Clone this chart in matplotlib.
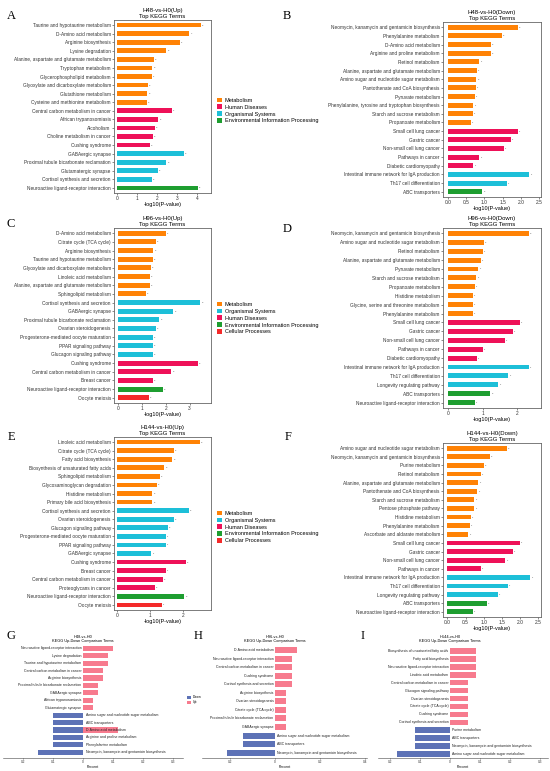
"""
KEGG enrichment figure: six Top KEGG Terms bar panels (A-F)
and three up/down comparison panels (G-I).
"""
import numpy as np
import matplotlib
matplotlib.use('Agg')
import matplotlib.pyplot as plt
import matplotlib.transforms as mtransforms
from matplotlib.patches import Patch

W, H = 550, 771
plt.rcParams['font.family'] = ['Liberation Sans', 'DejaVu Sans']

COLORS = {'M': '#FF8205', 'H': '#EE1158', 'O': '#1DBFD8', 'E': '#1E9E30', 'C': '#F42A2A'}
NAMES = {'M': 'Metabolism', 'H': 'Human Diseases', 'O': 'Organismal Systems',
         'E': 'Environmental Information Processing', 'C': 'Cellular Processes'}
UP_COLOR = '#F77B8E'
DOWN_COLOR = '#5D72B6'

# ---------------- A: H48-vs-H0 (Up) ----------------
terms_a = ["Taurine and hypotaurine metabolism", "D-Amino acid metabolism", "Arginine biosynthesis",
           "Lysine degradation", "Alanine, aspartate and glutamate metabolism", "Tryptophan metabolism",
           "Glycerophospholipid metabolism", "Glyoxylate and dicarboxylate metabolism",
           "Glutathione metabolism", "Cysteine and methionine metabolism",
           "Central carbon metabolism in cancer", "African trypanosomiasis", "Alcoholism",
           "Choline metabolism in cancer", "Cushing syndrome", "GABAergic synapse",
           "Proximal tubule bicarbonate reclamation", "Glutamatergic synapse",
           "Cortisol synthesis and secretion", "Neuroactive ligand-receptor interaction"]
vals_a = [4.20, 3.61, 3.14, 2.46, 1.84, 1.76, 1.72, 1.54, 1.50, 1.47,
          2.72, 2.06, 1.87, 1.77, 1.64, 3.33, 2.46, 2.04, 1.72, 4.03]
counts_a = [5, 7, 4, 5, 3, 3, 4, 3, 3, 3, 4, 2, 3, 3, 3, 3, 3, 2, 2, 6]
cats_a = ['M'] * 10 + ['H'] * 5 + ['O'] * 4 + ['E']

# ---------------- B: H48-vs-H0 (Down) ----------------
terms_b = ["Neomycin, kanamycin and gentamicin biosynthesis", "Phenylalanine metabolism",
           "D-Amino acid metabolism", "Arginine and proline metabolism", "Retinol metabolism",
           "Alanine, aspartate and glutamate metabolism", "Amino sugar and nucleotide sugar metabolism",
           "Pantothenate and CoA biosynthesis", "Pyruvate metabolism",
           "Phenylalanine, tyrosine and tryptophan biosynthesis", "Starch and sucrose metabolism",
           "Propanoate metabolism", "Small cell lung cancer", "Gastric cancer",
           "Non-small cell lung cancer", "Pathways in cancer", "Diabetic cardiomyopathy",
           "Intestinal immune network for IgA production", "Th17 cell differentiation",
           "ABC transporters"]
vals_b = [1.91, 1.47, 1.18, 1.18, 0.86, 0.80, 0.78, 0.76, 0.75, 0.70,
          0.69, 0.64, 1.91, 1.73, 1.53, 0.86, 0.70, 2.23, 1.61, 0.95]
counts_b = [3, 2, 2, 2, 1, 1, 2, 1, 1, 1, 1, 1, 1, 1, 1, 1, 1, 1, 1, 2]
cats_b = ['M'] * 12 + ['H'] * 5 + ['O'] * 2 + ['E']

# ---------------- C: H96-vs-H0 (Up) ----------------
terms_c = ["D-Amino acid metabolism", "Citrate cycle (TCA cycle)", "Arginine biosynthesis",
           "Taurine and hypotaurine metabolism", "Glyoxylate and dicarboxylate metabolism",
           "Linoleic acid metabolism", "Alanine, aspartate and glutamate metabolism",
           "Sphingolipid metabolism", "Cortisol synthesis and secretion", "GABAergic synapse",
           "Proximal tubule bicarbonate reclamation", "Ovarian steroidogenesis",
           "Progesterone-mediated oocyte maturation", "PPAR signaling pathway",
           "Glucagon signaling pathway", "Cushing syndrome", "Central carbon metabolism in cancer",
           "Breast cancer", "Neuroactive ligand-receptor interaction", "Oocyte meiosis"]
vals_c = [2.00, 1.59, 1.48, 1.45, 1.37, 1.34, 1.34, 1.15, 3.45, 2.32,
          1.73, 1.58, 1.44, 1.44, 1.44, 3.35, 2.23, 1.44, 1.86, 1.30]
counts_c = [4, 2, 2, 2, 2, 2, 2, 2, 3, 2, 2, 2, 2, 2, 2, 3, 3, 2, 3, 2]
cats_c = ['M'] * 8 + ['O'] * 7 + ['H'] * 3 + ['E', 'C']

# ---------------- D: H96-vs-H0 (Down) ----------------
terms_d = ["Neomycin, kanamycin and gentamicin biosynthesis", "Amino sugar and nucleotide sugar metabolism",
           "Retinol metabolism", "Alanine, aspartate and glutamate metabolism", "Pyruvate metabolism",
           "Starch and sucrose metabolism", "Propanoate metabolism", "Histidine metabolism",
           "Glycine, serine and threonine metabolism", "Phenylalanine metabolism",
           "Small cell lung cancer", "Gastric cancer", "Non-small cell lung cancer",
           "Pathways in cancer", "Diabetic cardiomyopathy",
           "Intestinal immune network for IgA production", "Th17 cell differentiation",
           "Longevity regulating pathway", "ABC transporters",
           "Neuroactive ligand-receptor interaction"]
vals_d = [2.34, 1.03, 1.00, 0.94, 0.88, 0.82, 0.78, 0.72, 0.72, 0.71,
          2.08, 1.87, 1.64, 1.00, 0.84, 2.34, 1.74, 1.45, 1.22, 0.77]
counts_d = [3, 2, 1, 1, 1, 1, 1, 1, 1, 1, 1, 1, 1, 1, 1, 1, 1, 1, 2, 1]
cats_d = ['M'] * 10 + ['H'] * 5 + ['O'] * 3 + ['E'] * 2

# ---------------- E: H144-vs-H0 (Up) ----------------
terms_e = ["Linoleic acid metabolism", "Citrate cycle (TCA cycle)", "Fatty acid biosynthesis",
           "Biosynthesis of unsaturated fatty acids", "Sphingolipid metabolism",
           "Glycosaminoglycan degradation", "Histidine metabolism", "Primary bile acid biosynthesis",
           "Cortisol synthesis and secretion", "Ovarian steroidogenesis", "Glucagon signaling pathway",
           "Progesterone-mediated oocyte maturation", "PPAR signaling pathway", "GABAergic synapse",
           "Cushing syndrome", "Breast cancer", "Central carbon metabolism in cancer",
           "Proteoglycans in cancer", "Neuroactive ligand-receptor interaction", "Oocyte meiosis"]
vals_e = [2.52, 1.73, 1.68, 1.44, 1.29, 1.20, 1.07, 1.07, 2.18, 1.73,
          1.55, 1.49, 1.49, 1.04, 2.10, 1.49, 1.40, 1.14, 2.05, 1.37]
counts_e = [3, 2, 3, 3, 2, 2, 2, 2, 2, 2, 2, 1, 1, 1, 2, 1, 2, 2, 3, 1]
cats_e = ['M'] * 8 + ['O'] * 6 + ['H'] * 4 + ['E', 'C']

# ---------------- F: H144-vs-H0 (Down) ----------------
terms_f = ["Amino sugar and nucleotide sugar metabolism", "Neomycin, kanamycin and gentamicin biosynthesis",
           "Purine metabolism", "Retinol metabolism", "Alanine, aspartate and glutamate metabolism",
           "Pantothenate and CoA biosynthesis", "Starch and sucrose metabolism",
           "Pentose phosphate pathway", "Histidine metabolism", "Phenylalanine metabolism",
           "Ascorbate and aldarate metabolism", "Small cell lung cancer", "Gastric cancer",
           "Non-small cell lung cancer", "Pathways in cancer",
           "Intestinal immune network for IgA production", "Th17 cell differentiation",
           "Longevity regulating pathway", "ABC transporters",
           "Neuroactive ligand-receptor interaction"]
vals_f = [1.64, 1.18, 1.01, 0.92, 0.85, 0.83, 0.74, 0.74, 0.65, 0.62,
          0.58, 1.99, 1.80, 1.60, 0.92, 2.29, 1.67, 1.39, 1.09, 0.71]
counts_f = [3, 2, 2, 1, 1, 1, 1, 1, 1, 1, 1, 1, 1, 1, 1, 1, 1, 1, 2, 1]
cats_f = ['M'] * 11 + ['H'] * 4 + ['O'] * 3 + ['E'] * 2

# ---------------- G-I: up/down comparison (percent) ----------------
terms_g = ["Neuroactive ligand-receptor interaction", "Lysine degradation",
           "Taurine and hypotaurine metabolism", "Central carbon metabolism in cancer",
           "Arginine biosynthesis", "Proximal tubule bicarbonate reclamation", "GABAergic synapse",
           "African trypanosomiasis", "Glutamatergic synapse",
           "Amino sugar and nucleotide sugar metabolism", "ABC transporters",
           "D-Amino acid metabolism", "Arginine and proline metabolism", "Phenylalanine metabolism",
           "Neomycin, kanamycin and gentamicin biosynthesis"]
up_g = [0.100, 0.083, 0.083, 0.067, 0.067, 0.050, 0.050, 0.033, 0.033, 0, 0, 0.117, 0, 0, 0]
down_g = [0, 0, 0, 0, 0, 0, 0, 0, 0, 0.100, 0.100, 0.100, 0.100, 0.100, 0.150]

terms_h = ["D-Amino acid metabolism", "Neuroactive ligand-receptor interaction",
           "Central carbon metabolism in cancer", "Cushing syndrome", "Cortisol synthesis and secretion",
           "Arginine biosynthesis", "Ovarian steroidogenesis", "Citrate cycle (TCA cycle)",
           "Proximal tubule bicarbonate reclamation", "GABAergic synapse",
           "Amino sugar and nucleotide sugar metabolism", "ABC transporters",
           "Neomycin, kanamycin and gentamicin biosynthesis"]
up_h = [0.100, 0.075, 0.075, 0.075, 0.075, 0.050, 0.050, 0.050, 0.050, 0.050, 0, 0, 0]
down_h = [0, 0, 0, 0, 0, 0, 0, 0, 0, 0, 0.143, 0.143, 0.214]

terms_i = ["Biosynthesis of unsaturated fatty acids", "Fatty acid biosynthesis",
           "Neuroactive ligand-receptor interaction", "Linoleic acid metabolism",
           "Central carbon metabolism in cancer", "Glucagon signaling pathway",
           "Ovarian steroidogenesis", "Citrate cycle (TCA cycle)", "Cushing syndrome",
           "Cortisol synthesis and secretion", "Purine metabolism", "ABC transporters",
           "Neomycin, kanamycin and gentamicin biosynthesis",
           "Amino sugar and nucleotide sugar metabolism"]
up_i = [0.088, 0.088, 0.088, 0.088, 0.059, 0.059, 0.059, 0.059, 0.059, 0.059, 0, 0, 0, 0]
down_i = [0, 0, 0, 0, 0, 0, 0, 0, 0, 0, 0.118, 0.118, 0.118, 0.176]


def px_rect(l, r, t, b):
    return [l / W, 1 - b / H, (r - l) / W, (b - t) / H]


def kegg_panel(fig, rect, terms, vals, counts, cats, title, xlim, xticks, xticklabels):
    ax = fig.add_axes(px_rect(*rect))
    n = len(terms)
    y = np.arange(n)
    ax.barh(y, vals, height=0.55, color=[COLORS[c] for c in cats], linewidth=0)
    span = xlim[1] - xlim[0]
    for yi, v, c in zip(y, vals, counts):
        ax.text(v + 0.012 * span, yi, str(c), fontsize=1.7, ha='left', va='center', color='#333333')
    ax.set_xlim(*xlim)
    ax.set_ylim(n - 0.4, -0.6)
    ax.set_yticks(y)
    ax.set_yticklabels(terms, fontsize=3.4)
    ax.set_xticks(xticks)
    ax.set_xticklabels(xticklabels, fontsize=3.5)
    ax.tick_params(length=1.5, width=0.4, pad=0.8, colors='#333333')
    ax.set_xlabel('-log10(P-value)', fontsize=4.0, labelpad=0.8)
    ax.set_title(title, fontsize=4.3, pad=1.6, linespacing=1.1)
    for s in ax.spines.values():
        s.set_linewidth(0.6)
        s.set_color('#666666')
    return ax


def cat_legend(fig, cats, x, yc):
    handles = [Patch(facecolor=COLORS[c], label=NAMES[c]) for c in cats]
    fig.legend(handles=handles, loc='center left', bbox_to_anchor=(x / W, 1 - yc / H),
               frameon=False, fontsize=4.0, handlelength=0.9, handleheight=0.9,
               handletextpad=0.5, labelspacing=0.3, borderaxespad=0, borderpad=0)


def updown_panel(fig, rect, terms, up, down, title, xlim, xticks, xticklabels, pads):
    ax = fig.add_axes(px_rect(*rect))
    ax.patch.set_alpha(0)
    n = len(terms)
    y = np.arange(n)
    up = np.array(up)
    down = np.array(down)
    ax.barh(y, up, height=0.7, color=UP_COLOR, linewidth=0)
    ax.barh(y, -down, height=0.7, color=DOWN_COLOR, linewidth=0)
    for yi, t, d in zip(y, terms, down):
        if d > 0:
            ax.annotate(t, (0, yi), xytext=(1.8, 0), textcoords='offset points',
                        ha='left', va='center', fontsize=2.5, color='#222222')
        else:
            ax.annotate(t, (0, yi), xytext=(-1.1, 0), textcoords='offset points',
                        ha='right', va='center', fontsize=2.5, color='#222222')
    ax.set_xlim(*xlim)
    ax.set_ylim(n - 1 + pads[1], -pads[0])
    ax.set_yticks([])
    for side in ['left', 'right', 'top']:
        ax.spines[side].set_visible(False)
    ax.spines['bottom'].set_linewidth(0.4)
    ax.spines['bottom'].set_color('#444444')
    ax.set_xticks(xticks)
    ax.set_xticklabels(xticklabels, fontsize=2.3)
    ax.tick_params(axis='x', length=1.0, width=0.4, pad=0.6, colors='#333333')
    ax.set_xlabel('Percent', fontsize=2.5, labelpad=0.4)
    trans = mtransforms.blended_transform_factory(ax.transData, ax.transAxes)
    ax.text(0, 1.015, title, transform=trans, ha='center', va='bottom',
            fontsize=2.8, linespacing=1.25)
    return ax


fig = plt.figure(figsize=(W / 100, H / 100), dpi=100)

kegg_panel(fig, (114, 211, 20, 193), terms_a, vals_a, counts_a, cats_a,
           "H48-vs-H0(Up)\nTop KEGG Terms", (-0.17, 4.7), [0, 1, 2, 3, 4], ['0', '1', '2', '3', '4'])
kegg_panel(fig, (443, 541, 22, 197), terms_b, vals_b, counts_b, cats_b,
           "H48-vs-H0(Down)\nTop KEGG Terms", (-0.13, 2.55),
           [0, 0.5, 1, 1.5, 2, 2.5], ['0.0', '0.5', '1.0', '1.5', '2.0', '2.5'])
kegg_panel(fig, (114, 211, 228, 403), terms_c, vals_c, counts_c, cats_c,
           "H96-vs-H0(Up)\nTop KEGG Terms", (-0.18, 3.9), [0, 1, 2, 3], ['0', '1', '2', '3'])
kegg_panel(fig, (443, 541, 228, 408), terms_d, vals_d, counts_d, cats_d,
           "H96-vs-H0(Down)\nTop KEGG Terms", (-0.14, 2.68), [0, 1, 2], ['0', '1', '2'])
kegg_panel(fig, (114, 211, 437, 610), terms_e, vals_e, counts_e, cats_e,
           "H144-vs-H0(Up)\nTop KEGG Terms", (-0.1, 2.86), [0, 1, 2], ['0', '1', '2'])
kegg_panel(fig, (443, 541, 443, 617), terms_f, vals_f, counts_f, cats_f,
           "H144-vs-H0(Down)\nTop KEGG Terms", (-0.12, 2.58),
           [0, 0.5, 1, 1.5, 2, 2.5], ['0.0', '0.5', '1.0', '1.5', '2.0', '2.5'])

cat_legend(fig, ['M', 'H', 'O', 'E'], 217, 110.5)
cat_legend(fig, ['M', 'O', 'H', 'E', 'C'], 217, 318)
cat_legend(fig, ['M', 'O', 'H', 'E', 'C'], 217, 527)

updown_panel(fig, (3, 183, 645, 758), terms_g, up_g, down_g, "H48-vs-H0\nKEGG Up-Down Comparison Terms",
             (-0.267, 0.333), [-0.2, -0.1, 0, 0.1, 0.2, 0.3], ['0.2', '0.1', '0', '0.1', '0.2', '0.3'],
             (0.45, 0.77))
updown_panel(fig, (202, 367, 645, 758), terms_h, up_h, down_h, "H96-vs-H0\nKEGG Up-Down Comparison Terms",
             (-0.324, 0.409), [-0.2, 0, 0.2, 0.4], ['0.2', '0', '0.2', '0.4'], (0.58, 0.62))
updown_panel(fig, (378, 548, 645, 758), terms_i, up_i, down_i, "H144-vs-H0\nKEGG Up-Down Comparison Terms",
             (-0.24, 0.327), [-0.2, -0.1, 0, 0.1, 0.2, 0.3], ['0.2', '0.1', '0', '0.1', '0.2', '0.3'],
             (0.76, 0.5))

ud_handles = [Patch(facecolor=DOWN_COLOR, label='Down'), Patch(facecolor=UP_COLOR, label='Up')]
fig.legend(handles=ud_handles, loc='center left', bbox_to_anchor=(187 / W, 1 - 700 / H),
           frameon=False, fontsize=2.4, handlelength=1.1, handleheight=1.0,
           handletextpad=0.6, labelspacing=0.3, borderaxespad=0, borderpad=0)

# panel letters
letters = [('A', 11, 16), ('B', 287, 16), ('C', 11, 224), ('D', 287, 229),
           ('E', 11, 437), ('F', 288, 437), ('G', 11, 636), ('H', 198, 636), ('I', 363, 636)]
for lab, x, y in letters:
    fig.text(x / W, 1 - y / H, lab, fontsize=9, family=['Liberation Serif', 'DejaVu Serif'],
             ha='center', va='center')

fig.savefig('out.png', dpi=100)
